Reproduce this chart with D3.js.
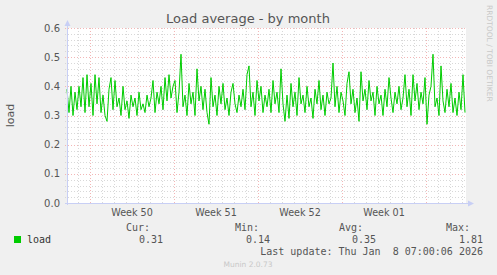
<!DOCTYPE html>
<html>
<head>
<meta charset="utf-8">
<script src="https://cdn.jsdelivr.net/npm/d3@7"></script>
<style>
  body { margin: 0; background: #f0f0f0; }
  svg { display: block; }
</style>
</head>
<body>
<script>

// --------------------------------------------------
// Data (one sample every 4 hours)
// --------------------------------------------------

var startTime = new Date(2025, 11, 6, 2, 0);
var endTime = new Date(2026, 0, 8, 8, 0);
var stepHours = 4;

var loadValues = [
    0.39, 0.31, 0.40, 0.30, 0.38, 0.32, 0.40, 0.33, 0.43, 0.31,
    0.44, 0.33, 0.41, 0.30, 0.44, 0.34, 0.43, 0.31, 0.37, 0.30,
    0.28, 0.39, 0.43, 0.32, 0.42, 0.33, 0.36, 0.30, 0.40, 0.32,
    0.35, 0.29, 0.37, 0.33, 0.36, 0.30, 0.38, 0.32, 0.34, 0.31,
    0.37, 0.33, 0.36, 0.42, 0.31, 0.38, 0.34, 0.40, 0.32, 0.43,
    0.35, 0.44, 0.36, 0.40, 0.42, 0.31, 0.38, 0.51, 0.33, 0.37,
    0.30, 0.41, 0.34, 0.38, 0.30, 0.46, 0.35, 0.40, 0.32, 0.39,
    0.31, 0.27, 0.43, 0.33, 0.37, 0.30, 0.40, 0.34, 0.41, 0.32,
    0.36, 0.30, 0.38, 0.41, 0.34, 0.31, 0.37, 0.33, 0.39, 0.32,
    0.44, 0.47, 0.33, 0.38, 0.30, 0.42, 0.35, 0.40, 0.31, 0.37,
    0.33, 0.39, 0.31, 0.42, 0.34, 0.38, 0.31, 0.46, 0.34, 0.28,
    0.37, 0.29, 0.41, 0.33, 0.38, 0.30, 0.43, 0.34, 0.37, 0.31,
    0.40, 0.33, 0.36, 0.29, 0.39, 0.34, 0.42, 0.32, 0.37, 0.30,
    0.38, 0.34, 0.36, 0.48, 0.33, 0.40, 0.31, 0.38, 0.35, 0.30,
    0.41, 0.45, 0.34, 0.39, 0.31, 0.36, 0.28, 0.45, 0.35, 0.39,
    0.32, 0.42, 0.35, 0.38, 0.30, 0.40, 0.34, 0.37, 0.30, 0.39,
    0.33, 0.43, 0.36, 0.31, 0.38, 0.34, 0.40, 0.32, 0.36, 0.44,
    0.33, 0.39, 0.30, 0.44, 0.35, 0.41, 0.32, 0.38, 0.34, 0.43,
    0.27, 0.37, 0.40, 0.51, 0.33, 0.36, 0.30, 0.47, 0.35, 0.31,
    0.39, 0.33, 0.41, 0.31, 0.36, 0.30, 0.38, 0.32, 0.44, 0.31
];

var yTicks = [0.0, 0.1, 0.2, 0.3, 0.4, 0.5, 0.6];
var legendHeaders = ['Cur:', 'Min:', 'Avg:', 'Max:'];
var legendValues = ['0.31', '0.14', '0.35', '1.81'];
var lastUpdate = 'Last update: Thu Jan  8 07:00:06 2026';

var points = loadValues.map((v, i) => ({
    t: d3.timeHour.offset(startTime, i * stepHours),
    v: v
}));

// --------------------------------------------------
// Chart
// --------------------------------------------------

var svg = d3.select('body').append('svg')
    .attr('width', 497)
    .attr('height', 275);

var plotLeft = 67, plotRight = 466, plotTop = 28, plotBottom = 203;

var x = d3.scaleTime()
    .domain([startTime, endTime])
    .range([plotLeft, plotRight]);

var y = d3.scaleLinear()
    .domain([0, 0.6])
    .range([plotBottom, plotTop]);

var textColor = '#555';
var sans = 'DejaVu Sans, sans-serif';
var mono = 'DejaVu Sans Mono, monospace';
var minorColor = '#d8d8d8';
var majorColor = '#f3b6b6';

// plot background
svg.append('rect')
    .attr('x', plotLeft).attr('y', plotTop)
    .attr('width', plotRight - plotLeft).attr('height', plotBottom - plotTop)
    .attr('fill', '#fff');

// grid
var grid = svg.append('g').attr('shape-rendering', 'crispEdges');

var minorY = d3.range(0, 61, 2).map(d => d / 100).filter(d => Math.round(d * 100) % 10 != 0);
grid.selectAll('.hminor')
    .data(minorY)
    .enter().append('line')
    .attr('x1', plotLeft - 2).attr('x2', plotRight)
    .attr('y1', d => Math.round(y(d)) + 0.5).attr('y2', d => Math.round(y(d)) + 0.5)
    .attr('stroke', minorColor).attr('stroke-dasharray', '1,2');

var days = d3.timeDay.range(d3.timeDay.ceil(startTime), endTime)
    .filter(d => d.getDay() != 1);
grid.selectAll('.vminor')
    .data(days)
    .enter().append('line')
    .attr('x1', d => Math.round(x(d)) + 0.5).attr('x2', d => Math.round(x(d)) + 0.5)
    .attr('y1', plotTop).attr('y2', plotBottom + 2)
    .attr('stroke', minorColor).attr('stroke-dasharray', '1,2');

grid.selectAll('.hmajor')
    .data(yTicks)
    .enter().append('line')
    .attr('x1', plotLeft - 2).attr('x2', plotRight)
    .attr('y1', d => Math.round(y(d)) + 0.5).attr('y2', d => Math.round(y(d)) + 0.5)
    .attr('stroke', majorColor).attr('stroke-dasharray', '1,2');

var weeks = d3.timeMonday.range(d3.timeMonday.ceil(startTime), endTime);
grid.selectAll('.vmajor')
    .data(weeks)
    .enter().append('line')
    .attr('x1', d => Math.round(x(d)) + 0.5).attr('x2', d => Math.round(x(d)) + 0.5)
    .attr('y1', plotTop).attr('y2', plotBottom + 2)
    .attr('stroke', majorColor).attr('stroke-dasharray', '1,2');

// the load line
var line = d3.line()
    .x(d => x(d.t))
    .y(d => y(d.v));

svg.append('path')
    .datum(points)
    .attr('d', line)
    .attr('fill', 'none')
    .attr('stroke', '#00cc00')
    .attr('stroke-width', 1);

// axes with arrows
var axisColor = '#c8cff5';
svg.append('line')
    .attr('x1', plotLeft + 0.5).attr('x2', plotLeft + 0.5)
    .attr('y1', plotBottom + 2).attr('y2', plotTop - 4)
    .attr('stroke', axisColor).attr('shape-rendering', 'crispEdges');
svg.append('path')
    .attr('d', `M${plotLeft - 2.5},${plotTop - 2} L${plotLeft + 0.5},${plotTop - 8} L${plotLeft + 3.5},${plotTop - 2} Z`)
    .attr('fill', axisColor);
svg.append('line')
    .attr('x1', plotLeft - 2).attr('x2', plotRight + 4)
    .attr('y1', plotBottom + 0.5).attr('y2', plotBottom + 0.5)
    .attr('stroke', axisColor).attr('shape-rendering', 'crispEdges');
svg.append('path')
    .attr('d', `M${plotRight + 2},${plotBottom - 2.5} L${plotRight + 8},${plotBottom + 0.5} L${plotRight + 2},${plotBottom + 3.5} Z`)
    .attr('fill', axisColor);

// y tick labels
svg.selectAll('.ylab')
    .data(yTicks)
    .enter().append('text')
    .attr('x', 60)
    .attr('y', d => y(d) + 3.5)
    .attr('text-anchor', 'end')
    .attr('font-family', sans).attr('font-size', 10)
    .attr('fill', textColor)
    .text(d => d.toFixed(1));

// week labels, centred on each week
var weekFmt = d3.timeFormat('%V');
svg.selectAll('.xlab')
    .data(weeks.filter(d => x(d3.timeHour.offset(d, 84)) < plotRight))
    .enter().append('text')
    .attr('x', d => x(d3.timeHour.offset(d, 84)))
    .attr('y', 216)
    .attr('text-anchor', 'middle')
    .attr('font-family', sans).attr('font-size', 9.6)
    .attr('fill', textColor)
    .text(d => 'Week ' + weekFmt(d));

// title, axis label, side text
svg.append('text')
    .attr('x', 248).attr('y', 23)
    .attr('text-anchor', 'middle')
    .attr('font-family', sans).attr('font-size', 13)
    .attr('fill', textColor)
    .text('Load average - by month');

svg.append('text')
    .attr('transform', 'translate(14,115.5) rotate(-90)')
    .attr('text-anchor', 'middle')
    .attr('font-family', sans).attr('font-size', 11)
    .attr('fill', textColor)
    .text('load');

svg.append('text')
    .attr('transform', 'translate(487,5) rotate(90)')
    .attr('text-anchor', 'start')
    .attr('font-family', sans).attr('font-size', 7.5)
    .attr('fill', '#c8c8c8')
    .text('RRDTOOL / TOBI OETIKER');

// legend
svg.append('rect')
    .attr('x', 14).attr('y', 236)
    .attr('width', 7).attr('height', 7)
    .attr('fill', '#00cc00');
svg.append('text')
    .attr('x', 27).attr('y', 243)
    .attr('font-family', mono).attr('font-size', 10)
    .attr('fill', '#333')
    .text('load');

var headerEnds = [150, 259, 363, 470];
var valueEnds = [163, 270, 376, 483];

svg.selectAll('.lhead')
    .data(legendHeaders)
    .enter().append('text')
    .attr('x', (d, i) => headerEnds[i]).attr('y', 231)
    .attr('text-anchor', 'end')
    .attr('font-family', mono).attr('font-size', 10)
    .attr('fill', textColor)
    .text(d => d);

svg.selectAll('.lval')
    .data(legendValues)
    .enter().append('text')
    .attr('x', (d, i) => valueEnds[i]).attr('y', 243)
    .attr('text-anchor', 'end')
    .attr('font-family', mono).attr('font-size', 10)
    .attr('fill', textColor)
    .text(d => d);

svg.append('text')
    .attr('x', 483).attr('y', 255)
    .attr('text-anchor', 'end')
    .attr('font-family', mono).attr('font-size', 10)
    .attr('fill', textColor)
    .attr('xml:space', 'preserve')
    .style('white-space', 'pre')
    .text(lastUpdate);

svg.append('text')
    .attr('x', 248).attr('y', 267)
    .attr('text-anchor', 'middle')
    .attr('font-family', sans).attr('font-size', 7.5)
    .attr('fill', '#c8c8c8')
    .text('Munin 2.0.73');

</script>
</body>
</html>
